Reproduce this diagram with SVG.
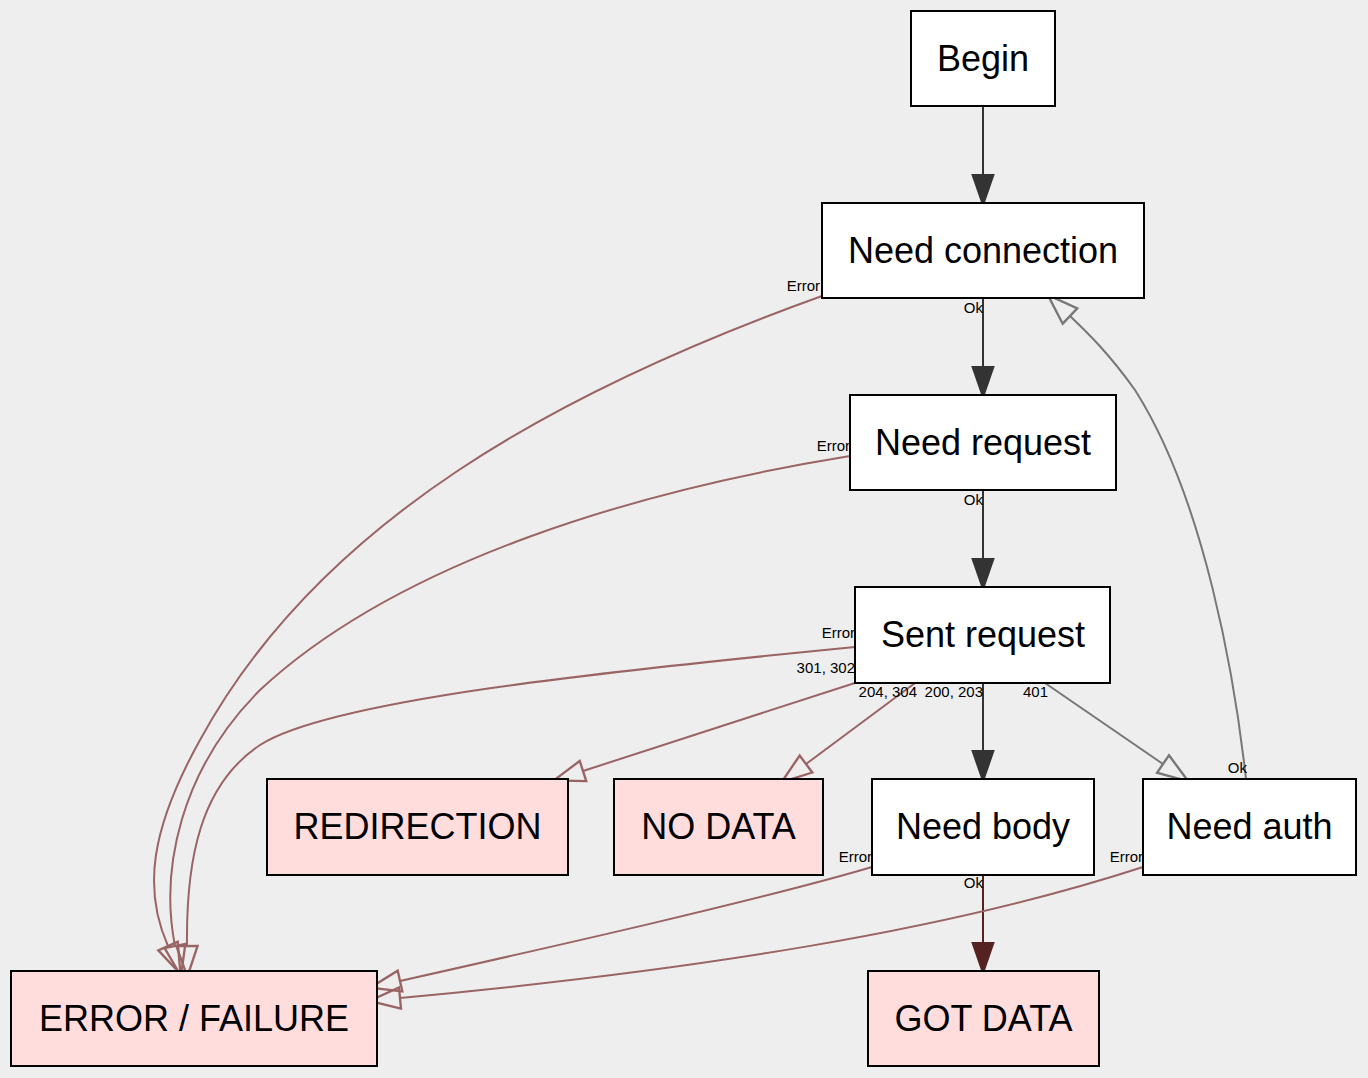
<svg xmlns="http://www.w3.org/2000/svg" width="1368" height="1078" viewBox="0 0 1368 1078">
<style>
.box{stroke:#000;stroke-width:2}
.w{fill:#fff}
.p{fill:#ffdddd}
.t{font-family:"Liberation Sans",Arial,sans-serif;font-size:36px;text-anchor:middle;fill:#000}
.l{font-family:"Liberation Sans",Arial,sans-serif;font-size:15px;text-anchor:end;fill:#000}
.e{fill:none;stroke-width:2}
.dk{stroke:#333333}
.er{stroke:#9a6464}
.gr{stroke:#777777}
.gd{stroke:#552222}
</style>
<defs>
<marker id="aDk" markerUnits="userSpaceOnUse" markerWidth="40" markerHeight="30" refX="0" refY="10" orient="auto" viewBox="-2 0 34 20"><path d="M0,0 L29,10 L0,20 Z" fill="#333333"/></marker>
<marker id="aGd" markerUnits="userSpaceOnUse" markerWidth="40" markerHeight="30" refX="0" refY="10" orient="auto" viewBox="-2 0 34 20"><path d="M0,0 L29,10 L0,20 Z" fill="#552222"/></marker>
<marker id="aEr" markerUnits="userSpaceOnUse" markerWidth="40" markerHeight="30" refX="0" refY="11" orient="auto" viewBox="-2 0 34 22"><path d="M0,2 L26,11 L0,20 Z" fill="none" stroke="#9a6464" stroke-width="2"/></marker>
<marker id="aGr" markerUnits="userSpaceOnUse" markerWidth="40" markerHeight="30" refX="0" refY="11" orient="auto" viewBox="-2 0 34 22"><path d="M0,2 L26,11 L0,20 Z" fill="none" stroke="#777777" stroke-width="2"/></marker>
</defs>
<rect width="1368" height="1078" fill="#eeeeee"/>
<g id="connectors">
<path class="e dk" d="M983,106 L983,174" marker-end="url(#aDk)"/>
<path class="e dk" d="M983,298 L983,366" marker-end="url(#aDk)"/>
<path class="e dk" d="M983,490 L983,558" marker-end="url(#aDk)"/>
<path class="e dk" d="M983,683 L983,750" marker-end="url(#aDk)"/>
<path class="e gd" d="M983,875 L983,942" marker-end="url(#aGd)"/>
<path class="e er" d="M858,682 L583,771" marker-end="url(#aEr)"/>
<path class="e er" d="M915,683 L806,764" marker-end="url(#aEr)"/>
<path class="e gr" d="M1045,683 L1163,764" marker-end="url(#aGr)"/>
<path class="e gr" d="M1246,779 C1235,680 1205,500 1135,390 C1110,355 1090,335 1070,316" marker-end="url(#aGr)"/>
<path class="e er" d="M822,296 C560,390 320,520 200,740 C150,830 143,890 168,946" marker-end="url(#aEr)"/>
<path class="e er" d="M850,456 C640,490 400,560 260,690 C180,770 160,870 175,946" marker-end="url(#aEr)"/>
<path class="e er" d="M855,647 C600,672 330,700 260,745 C200,785 186,860 187,946" marker-end="url(#aEr)"/>
<path class="e er" d="M872,867 C760,900 560,945 400,981" marker-end="url(#aEr)"/>
<path class="e er" d="M1143,867 C950,930 700,970 400,998" marker-end="url(#aEr)"/>
<text class="l" x="820" y="291">Error</text>
<text class="l" x="983" y="313">Ok</text>
<text class="l" x="850" y="451">Error</text>
<text class="l" x="983" y="505">Ok</text>
<text class="l" x="855" y="638">Error</text>
<text class="l" x="855" y="673">301, 302</text>
<text class="l" x="917" y="697">204, 304</text>
<text class="l" x="983" y="697">200, 203</text>
<text class="l" x="1048" y="697">401</text>
<text class="l" x="872" y="862">Error</text>
<text class="l" x="983" y="888">Ok</text>
<text class="l" x="1143" y="862">Error</text>
<text class="l" x="1247" y="773">Ok</text>
</g>
<g id="begin"><rect class="box w" x="911" y="11" width="144" height="95"/><text class="t" x="983" y="71">Begin</text></g>
<g id="need-connection"><rect class="box w" x="822" y="203" width="322" height="95"/><text class="t" x="983" y="263">Need connection</text></g>
<g id="need-request"><rect class="box w" x="850" y="395" width="266" height="95"/><text class="t" x="983" y="455">Need request</text></g>
<g id="sent-request"><rect class="box w" x="855" y="587" width="255" height="96"/><text class="t" x="983" y="647">Sent request</text></g>
<g id="redirection"><rect class="box p" x="267" y="779" width="301" height="96"/><text class="t" x="417.5" y="839">REDIRECTION</text></g>
<g id="no-data"><rect class="box p" x="614" y="779" width="209" height="96"/><text class="t" x="718.5" y="839">NO DATA</text></g>
<g id="need-body"><rect class="box w" x="872" y="779" width="222" height="96"/><text class="t" x="983" y="839">Need body</text></g>
<g id="need-auth"><rect class="box w" x="1143" y="779" width="213" height="96"/><text class="t" x="1249.5" y="839">Need auth</text></g>
<g id="error-failure"><rect class="box p" x="11" y="971" width="366" height="95"/><text class="t" x="194" y="1031">ERROR / FAILURE</text></g>
<g id="got-data"><rect class="box p" x="868" y="971" width="231" height="95"/><text class="t" x="983.5" y="1031">GOT DATA</text></g>
</svg>
